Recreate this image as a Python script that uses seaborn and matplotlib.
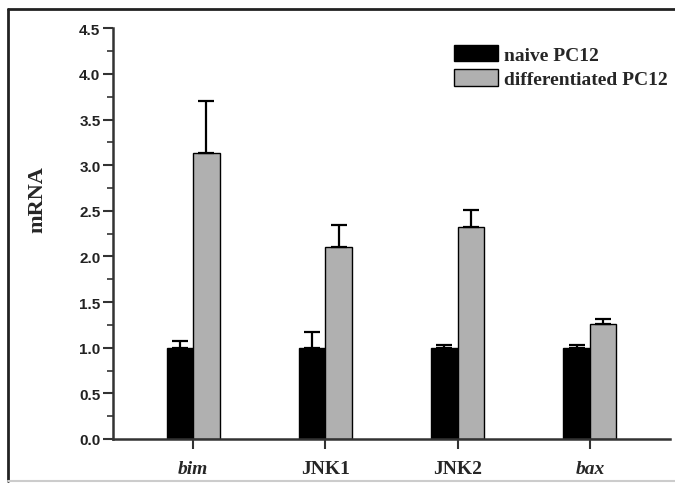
import matplotlib
matplotlib.use("Agg")
import matplotlib.pyplot as plt
import seaborn as sns
import pandas as pd
from matplotlib.patches import Patch
from matplotlib.ticker import MultipleLocator, FormatStrFormatter
from matplotlib.lines import Line2D

genes = ['bim', 'JNK1', 'JNK2', 'bax']
groups = ['naive PC12', 'differentiated PC12']
naive = [1.0, 1.0, 1.0, 1.0]
naive_err = [0.07, 0.17, 0.03, 0.03]
diff = [3.13, 2.10, 2.32, 1.26]
diff_err = [0.57, 0.24, 0.19, 0.05]
colors = ['#000000', '#b0b0b0']

df = pd.DataFrame({
    'gene': genes * 2,
    'group': [groups[0]] * 4 + [groups[1]] * 4,
    'mRNA': naive + diff,
})

sns.set_style('white')
fig = plt.figure(figsize=(6.75, 4.85), dpi=100)
ax = fig.add_axes([113 / 675, 1 - 440 / 485, 557 / 675, 410.7 / 485])

sns.barplot(data=df, x='gene', y='mRNA', hue='group', palette=colors,
            width=0.4, errorbar=None, edgecolor='black', linewidth=1,
            legend=False, ax=ax)

# error bars, upper only, placed on the bars seaborn drew
errs = naive_err + diff_err
bars = [p for p in ax.patches][:8]
for p, e in zip(bars, errs):
    xc = p.get_x() + p.get_width() / 2
    ax.errorbar(xc, p.get_height(), yerr=[[0], [e]], fmt='none',
                ecolor='black', elinewidth=1.6, capsize=5.5, capthick=1.6)

ax.set_xlim(-0.605, 3.605)
ax.set_ylim(0, 4.5)
ax.yaxis.set_major_locator(MultipleLocator(0.5))
ax.yaxis.set_minor_locator(MultipleLocator(0.25))
ax.yaxis.set_major_formatter(FormatStrFormatter('%.1f'))

for s in ['top', 'right']:
    ax.spines[s].set_visible(False)
for s in ['left', 'bottom']:
    ax.spines[s].set_linewidth(1.8)
    ax.spines[s].set_color('#333333')

ax.tick_params(axis='y', which='major', direction='out', length=7, width=1.5,
               color='#333333', left=True, labelsize=11, pad=2)
ax.tick_params(axis='y', which='minor', direction='out', length=4, width=1.2,
               color='#333333', left=True)
ax.tick_params(axis='x', which='major', direction='out', length=7, width=1.5,
               color='#333333', bottom=True, pad=8)
for lab in ax.get_yticklabels():
    lab.set_fontfamily('Liberation Sans')
    lab.set_fontweight('bold')
    lab.set_color('#222222')

ax.set_xticks(range(len(genes)))
ax.set_xticklabels(genes, fontfamily='Liberation Serif', fontweight='bold', fontsize=14)
for lab in ax.get_xticklabels():
    if lab.get_text() in ('bim', 'bax'):
        lab.set_fontstyle('italic')

ax.set_xlabel('')
ax.set_ylabel('mRNA', fontfamily='Liberation Serif', fontweight='bold', fontsize=16)
ax.yaxis.set_label_coords(-0.118, 0.585)

handles = [Patch(facecolor=c, edgecolor='black', linewidth=1) for c in colors]
ax.legend(handles, groups, loc='upper left', bbox_to_anchor=(444 / 675, 1 - 36 / 485),
          bbox_transform=fig.transFigure, frameon=False, borderpad=0,
          handlelength=2.3, handleheight=0.92, handletextpad=0.28, labelspacing=0.3,
          prop={'family': 'Liberation Serif', 'weight': 'bold', 'size': 14})

# outer frame around the figure
fig.add_artist(Line2D([8 / 675, 8 / 675], [1 - 10 / 485, 1 - 482 / 485],
                      transform=fig.transFigure, color='#222222', linewidth=2))
fig.add_artist(Line2D([8 / 675, 1.0], [1 - 10 / 485, 1 - 10 / 485],
                      transform=fig.transFigure, color='#222222', linewidth=2))
fig.add_artist(Line2D([8 / 675, 1.0], [1 - 482 / 485, 1 - 482 / 485],
                      transform=fig.transFigure, color='#cccccc', linewidth=1.5))

fig.savefig('out.png', dpi=100)
